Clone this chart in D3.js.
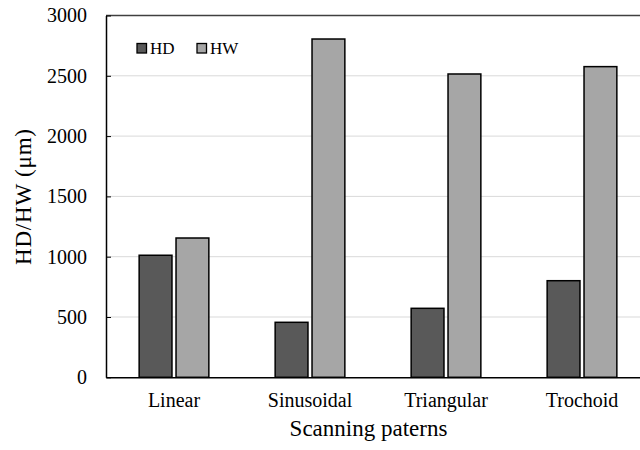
<!DOCTYPE html>
<html lang="en">
<head>
    <meta charset="UTF-8">
    <title>HD/HW by scanning pattern</title>
    <script src="https://d3js.org/d3.v7.min.js"></script>
    <style>
        body {
            margin: 0;
            padding: 0;
            background: #fff;
        }
        svg {
            font-family: "Liberation Serif", "Times New Roman", serif;
            display: block;
        }
    </style>
</head>
<body>
    <svg width="640" height="450"></svg>

    <script>
        const categories = ["Linear", "Sinusoidal", "Triangular", "Trochoid"];
        const seriesNames = ["HD", "HW"];
        const hdValues = [1012, 456, 572, 801];
        const hwValues = [1155, 2805, 2515, 2576];
        const yTicks = [0, 500, 1000, 1500, 2000, 2500, 3000];

        const colors = { HD: "#595959", HW: "#a6a6a6" };
        const serif = "'Liberation Serif', 'Times New Roman', serif";

        // plot area runs past the right edge, as in the reference
        const margin = { top: 15.5, left: 106, plotWidth: 544, bottom: 377.3 };

        const svg = d3.select("svg");

        const x = d3.scaleBand()
            .domain(categories)
            .range([margin.left, margin.left + margin.plotWidth]);

        const xInner = d3.scaleBand()
            .domain(seriesNames)
            .range([0, 69.7])
            .paddingInner(0.11);

        const y = d3.scaleLinear()
            .domain([0, 3000])
            .range([margin.bottom, margin.top]);

        // gridlines
        svg.append("g")
            .selectAll("line")
            .data(yTicks.filter(d => d > 0 && d < 3000))
            .join("line")
            .attr("x1", margin.left)
            .attr("x2", margin.left + margin.plotWidth)
            .attr("y1", d => y(d))
            .attr("y2", d => y(d))
            .attr("stroke", "#d9d9d9")
            .attr("stroke-width", 1);

        // top border
        svg.append("line")
            .attr("x1", margin.left)
            .attr("x2", margin.left + margin.plotWidth)
            .attr("y1", y(3000))
            .attr("y2", y(3000))
            .attr("stroke", "#404040")
            .attr("stroke-width", 1.5);

        const rows = categories.map((c, i) => ({ category: c, HD: hdValues[i], HW: hwValues[i] }));

        const groups = svg.append("g")
            .selectAll("g")
            .data(rows)
            .join("g")
            .attr("transform", d => `translate(${x(d.category) + (x.bandwidth() - 69.7) / 2},0)`);

        groups.selectAll("rect")
            .data(d => seriesNames.map(s => ({ key: s, value: d[s] })))
            .join("rect")
            .attr("x", d => xInner(d.key))
            .attr("y", d => y(d.value))
            .attr("width", xInner.bandwidth())
            .attr("height", d => y(0) - y(d.value))
            .attr("fill", d => colors[d.key])
            .attr("stroke", "#000")
            .attr("stroke-width", 1.5);

        // y axis
        const yAxis = svg.append("g")
            .attr("transform", `translate(${margin.left},0)`)
            .call(d3.axisLeft(y).tickValues(yTicks).tickFormat(d3.format("d"))
                .tickSize(-5).tickPadding(19).tickSizeOuter(0));
        yAxis.attr("font-family", serif).attr("font-size", 20);
        yAxis.select(".domain").attr("stroke", "#000").attr("stroke-width", 1.5);
        yAxis.selectAll(".tick line").attr("stroke", "#000");
        yAxis.selectAll("text").attr("fill", "#000");

        // x axis
        const xAxis = svg.append("g")
            .attr("transform", `translate(0,${margin.bottom})`)
            .call(d3.axisBottom(x).tickSize(0).tickPadding(16).tickSizeOuter(0));
        xAxis.attr("font-family", serif).attr("font-size", 20);
        xAxis.select(".domain").attr("stroke", "#000").attr("stroke-width", 1.5);
        xAxis.selectAll("text").attr("fill", "#000");

        // axis titles
        svg.append("text")
            .attr("x", 368.5)
            .attr("y", 436)
            .attr("text-anchor", "middle")
            .attr("font-size", "23px")
            .text("Scanning paterns");

        svg.append("text")
            .attr("transform", `translate(31,197) rotate(-90)`)
            .attr("text-anchor", "middle")
            .attr("font-size", "23px")
            .attr("textLength", 136)
            .attr("lengthAdjust", "spacing")
            .text("HD/HW (μm)");

        // legend
        const legend = svg.append("g")
            .selectAll("g")
            .data(seriesNames)
            .join("g")
            .attr("transform", (d, i) => `translate(${137 + i * 60},43.5)`);
        legend.append("rect")
            .attr("width", 9.5)
            .attr("height", 9.5)
            .attr("fill", d => colors[d])
            .attr("stroke", "#000")
            .attr("stroke-width", 1.3);
        legend.append("text")
            .attr("x", 13)
            .attr("y", 10.5)
            .attr("font-size", "17px")
            .text(d => d);
    </script>
</body>
</html>
